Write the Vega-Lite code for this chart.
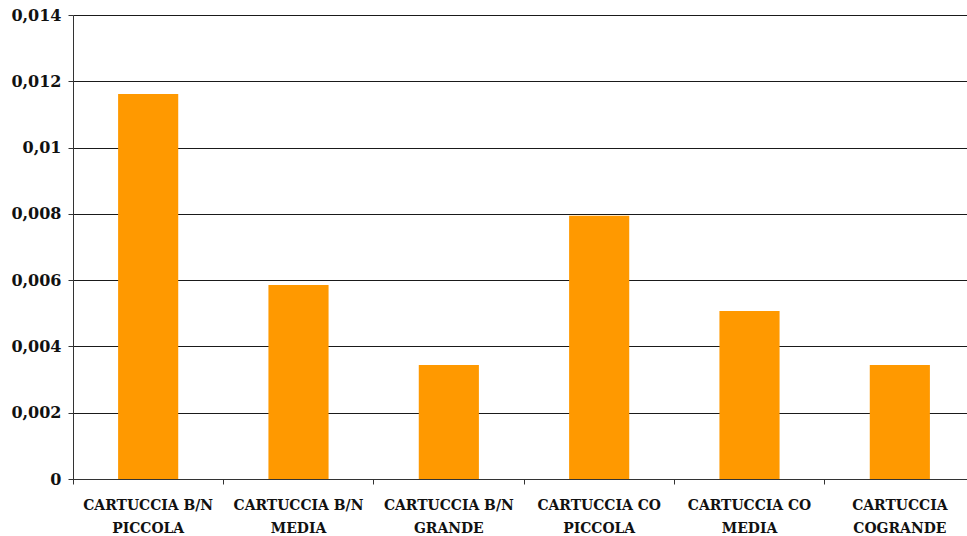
{
  "$schema": "https://vega.github.io/schema/vega-lite/v6.json",
  "width": 894,
  "height": 464,
  "autosize": {"type": "none"},
  "padding": {"left": 73, "top": 15, "right": 0, "bottom": 57},
  "background": "white",
  "config": {
    "view": {"stroke": null}
  },
  "data": {
    "values": [
      {"cartuccia": "CARTUCCIA B/N PICCOLA", "costo": 0.01162},
      {"cartuccia": "CARTUCCIA B/N MEDIA", "costo": 0.00585},
      {"cartuccia": "CARTUCCIA B/N GRANDE", "costo": 0.00344},
      {"cartuccia": "CARTUCCIA CO PICCOLA", "costo": 0.00794},
      {"cartuccia": "CARTUCCIA CO MEDIA", "costo": 0.00507},
      {"cartuccia": "CARTUCCIA COGRANDE", "costo": 0.00344}
    ]
  },
  "mark": {"type": "bar", "color": "#FF9900", "width": {"band": 0.4}},
  "encoding": {
    "x": {
      "field": "cartuccia",
      "type": "nominal",
      "sort": null,
      "title": null,
      "scale": {"range": [0, 902], "paddingInner": 0, "paddingOuter": 0},
      "axis": {
        "labelAngle": 0,
        "labelFont": "DejaVu Serif Condensed",
        "labelFontWeight": "bold",
        "labelFontSize": 15.5,
        "labelColor": "#111111",
        "labelLineHeight": 22.5,
        "labelPadding": 13.5,
        "labelLimit": 0,
        "bandPosition": 0,
        "tickSize": 5,
        "tickColor": "#333333",
        "domainColor": "#333333",
        "labelExpr": "[slice(datum.label, 0, lastindexof(datum.label, ' ')), slice(datum.label, lastindexof(datum.label, ' ') + 1)]"
      }
    },
    "y": {
      "field": "costo",
      "type": "quantitative",
      "title": null,
      "scale": {"domain": [0, 0.014], "nice": false},
      "axis": {
        "values": [0, 0.002, 0.004, 0.006, 0.008, 0.01, 0.012, 0.014],
        "labelFont": "DejaVu Serif",
        "labelFontWeight": "bold",
        "labelFontSize": 16,
        "labelColor": "#111111",
        "labelPadding": 7,
        "tickSize": 5,
        "tickColor": "#333333",
        "domainColor": "#333333",
        "grid": true,
        "gridColor": "#1a1a1a",
        "gridOpacity": 1,
        "labelExpr": "replace(toString(datum.value), '.', ',')"
      }
    }
  }
}
